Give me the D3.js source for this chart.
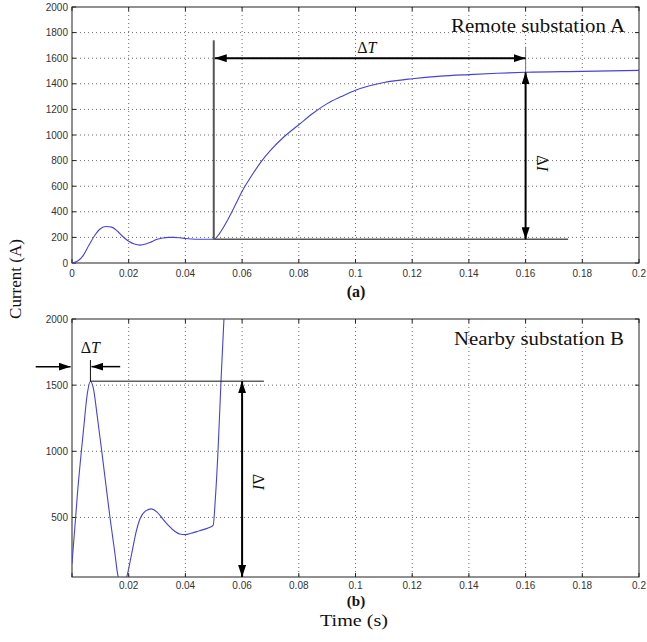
<!DOCTYPE html>
<html>
<head>
<meta charset="utf-8">
<script src="https://cdn.jsdelivr.net/npm/d3@7"></script>
<style>
  body { margin: 0; background: #fff; }
  .grid line { stroke: #444; stroke-dasharray: 1,3; stroke-width: 0.8; }
  .tick-label { font-family: Arial, "Liberation Sans", sans-serif; font-size: 10px; fill: #333; }
  .serif { font-family: "Times New Roman", "Liberation Serif", serif; fill: #111; }
</style>
</head>
<body>
<svg id="canvas" width="647" height="642"></svg>
<script>
"use strict"

// panel (a) : remote substation A
const timeA = [0, 0.002, 0.004, 0.006, 0.008, 0.010, 0.012, 0.014, 0.016, 0.018, 0.020, 0.022, 0.024,
  0.026, 0.028, 0.030, 0.032, 0.034, 0.036, 0.038, 0.040, 0.042, 0.045, 0.050, 0.052, 0.055, 0.058,
  0.060, 0.063, 0.067, 0.070, 0.075, 0.080, 0.085, 0.090, 0.095, 0.100, 0.105, 0.110, 0.120, 0.130,
  0.140, 0.150, 0.160, 0.180, 0.200]
const currentA = [0, 15, 60, 140, 215, 268, 285, 280, 250, 205, 170, 148, 140,
  148, 165, 185, 195, 200, 200, 197, 192, 188, 185, 185, 230, 340, 470,
  560, 670, 800, 880, 990, 1080, 1170, 1245, 1300, 1350, 1385, 1410, 1440, 1460,
  1472, 1482, 1490, 1497, 1505]

// panel (b) : nearby substation B
const timeB = [0, 0.002, 0.004, 0.0055, 0.0065, 0.0075, 0.009, 0.0105, 0.012, 0.0134, 0.015, 0.0163,
  0.0175, 0.0185, 0.0193, 0.021, 0.0225, 0.024, 0.026, 0.028, 0.030, 0.032, 0.034, 0.036, 0.038,
  0.040, 0.042, 0.045, 0.048, 0.0498, 0.0505, 0.0515, 0.0525, 0.0536, 0.055]
const currentB = [150, 700, 1150, 1450, 1530, 1480, 1250, 1000, 740, 500, 250, 50,
  0, 0, 50, 220, 380, 490, 550, 565, 540, 490, 440, 400, 375,
  370, 380, 400, 420, 440, 620, 1000, 1500, 2000, 2400]

const xTicksA = [0, 0.02, 0.04, 0.06, 0.08, 0.1, 0.12, 0.14, 0.16, 0.18, 0.2]
const xTicksB = [0.02, 0.04, 0.06, 0.08, 0.1, 0.12, 0.14, 0.16, 0.18, 0.2]
const yTicksA = [0, 200, 400, 600, 800, 1000, 1200, 1400, 1600, 1800, 2000]
const yTicksB = [500, 1000, 1500, 2000]

// annotation anchors (data units)
const stepA = { t0: 0.05, t1: 0.16, base: 185, top: 1490, arrowY: 1600, lineTop: 1740, markTop: 1690, baseEnd: 0.175 }
const peakB = { t: 0.0065, peak: 1530, lineEnd: 0.0677, tArrow: 0.06, arrowY: 1640, markTop: 1690 }

function fmt(v) { return v === 0 ? "0" : String(v) }

async function draw() {
  const svg = d3.select("#canvas")
  const defs = svg.append("defs")
  defs.append("marker")
    .attr("id", "head")
    .attr("viewBox", "0 0 12 8")
    .attr("refX", 12).attr("refY", 4)
    .attr("markerWidth", 12).attr("markerHeight", 8)
    .attr("markerUnits", "userSpaceOnUse")
    .attr("orient", "auto-start-reverse")
    .append("path").attr("d", "M0,0 L12,4 L0,8 Z").attr("fill", "#000")

  const left = 72, right = 639

  function panel(o) {
    const x = d3.scaleLinear().domain([0, 0.2]).range([left, right])
    const y = d3.scaleLinear().domain(o.yDomain).range([o.bottom, o.top])
    const g = svg.append("g")
    const clipId = "clip" + o.id
    defs.append("clipPath").attr("id", clipId)
      .append("rect").attr("x", left).attr("y", o.top).attr("width", right - left).attr("height", o.bottom - o.top)

    // grid
    const grid = g.append("g").attr("class", "grid")
    grid.selectAll(".gx").data(xTicksA.filter(t => t > 0 && t < 0.2)).enter().append("line")
      .attr("x1", d => x(d)).attr("x2", d => x(d)).attr("y1", o.top).attr("y2", o.bottom)
    grid.selectAll(".gy").data(o.yTicks.filter(v => y(v) > o.top + 1 && y(v) < o.bottom - 1)).enter().append("line")
      .attr("x1", left).attr("x2", right).attr("y1", d => y(d)).attr("y2", d => y(d))

    // frame
    g.append("rect").attr("x", left).attr("y", o.top).attr("width", right - left).attr("height", o.bottom - o.top)
      .attr("fill", "none").attr("stroke", "#222").attr("stroke-width", 1)

    // inward ticks on all four sides
    const tk = 4
    const ticks = g.append("g").attr("stroke", "#222").attr("stroke-width", 1)
    xTicksA.forEach(t => {
      ticks.append("line").attr("x1", x(t)).attr("x2", x(t)).attr("y1", o.bottom).attr("y2", o.bottom - tk)
      ticks.append("line").attr("x1", x(t)).attr("x2", x(t)).attr("y1", o.top).attr("y2", o.top + tk)
    })
    o.yTicks.forEach(v => {
      ticks.append("line").attr("x1", left).attr("x2", left + tk).attr("y1", y(v)).attr("y2", y(v))
      ticks.append("line").attr("x1", right).attr("x2", right - tk).attr("y1", y(v)).attr("y2", y(v))
    })

    // tick labels
    g.selectAll(".xl").data(o.xTicks).enter().append("text")
      .attr("class", "tick-label").attr("x", d => x(d)).attr("y", o.bottom + o.xLabelGap)
      .attr("text-anchor", "middle").text(fmt)
    g.selectAll(".yl").data(o.yTicks).enter().append("text")
      .attr("class", "tick-label").attr("x", left - 4).attr("y", d => y(d) + 3.5)
      .attr("text-anchor", "end").text(fmt)

    // curve
    const pts = o.t.map((t, i) => [t, o.i[i]])
    g.append("path").datum(pts)
      .attr("clip-path", "url(#" + clipId + ")")
      .attr("fill", "none").attr("stroke", "#4343d8").attr("stroke-width", 1.1)
      .attr("d", d3.line().x(d => x(d[0])).y(d => y(d[1])).curve(d3.curveMonotoneX))

    return { g, x, y }
  }

  function deltaLabel(g, sym, x, y, rot) {
    const t = g.append("text").attr("class", "serif").attr("font-size", 16)
      .attr("text-anchor", "middle")
      .attr("transform", `translate(${x},${y})` + (rot ? ` rotate(${rot})` : ""))
    t.append("tspan").text("Δ")
    t.append("tspan").attr("font-style", "italic").text(sym)
  }

  // ---- panel (a)
  const a = panel({ id: "a", top: 7, bottom: 263, yDomain: [0, 2000], t: timeA, i: currentA,
    xTicks: xTicksA, yTicks: yTicksA, xLabelGap: 14 })

  a.g.append("line").attr("x1", a.x(stepA.t0)).attr("x2", a.x(stepA.t0))
    .attr("y1", a.y(stepA.lineTop)).attr("y2", a.y(stepA.base))
    .attr("stroke", "#555").attr("stroke-width", 2)
  a.g.append("line").attr("x1", a.x(stepA.t0)).attr("x2", a.x(stepA.baseEnd))
    .attr("y1", a.y(stepA.base)).attr("y2", a.y(stepA.base))
    .attr("stroke", "#555").attr("stroke-width", 1.5)
  a.g.append("line").attr("x1", a.x(stepA.t1)).attr("x2", a.x(stepA.t1))
    .attr("y1", a.y(stepA.markTop)).attr("y2", a.y(stepA.top))
    .attr("stroke", "#777").attr("stroke-width", 1)
  a.g.append("line").attr("x1", a.x(stepA.t0) + 1).attr("x2", a.x(stepA.t1))
    .attr("y1", a.y(stepA.arrowY)).attr("y2", a.y(stepA.arrowY))
    .attr("stroke", "#000").attr("stroke-width", 2)
    .attr("marker-start", "url(#head)").attr("marker-end", "url(#head)")
  a.g.append("line").attr("x1", a.x(stepA.t1)).attr("x2", a.x(stepA.t1))
    .attr("y1", a.y(stepA.top)).attr("y2", a.y(stepA.base))
    .attr("stroke", "#000").attr("stroke-width", 2)
    .attr("marker-start", "url(#head)").attr("marker-end", "url(#head)")

  deltaLabel(a.g, "T", a.x(0.104), a.y(stepA.arrowY) - 5, 0)
  deltaLabel(a.g, "I", a.x(stepA.t1) + 11, a.y(780), 90)

  a.g.append("text").attr("class", "serif").attr("font-size", 18)
    .attr("x", 625).attr("y", 32).attr("text-anchor", "end")
    .attr("textLength", 174).attr("lengthAdjust", "spacingAndGlyphs").text("Remote substation A")
  a.g.append("text").attr("class", "serif").attr("font-size", 16).attr("font-weight", "bold")
    .attr("x", 356).attr("y", 297).attr("text-anchor", "middle").text("(a)")

  // ---- panel (b)
  const b = panel({ id: "b", top: 319, bottom: 577, yDomain: [50, 2000], t: timeB, i: currentB,
    xTicks: xTicksB, yTicks: yTicksB, xLabelGap: 12 })

  b.g.append("line").attr("x1", b.x(peakB.t)).attr("x2", b.x(peakB.lineEnd))
    .attr("y1", b.y(peakB.peak)).attr("y2", b.y(peakB.peak))
    .attr("stroke", "#111").attr("stroke-width", 1)
  b.g.append("line").attr("x1", b.x(peakB.t)).attr("x2", b.x(peakB.t))
    .attr("y1", b.y(peakB.markTop)).attr("y2", b.y(peakB.peak))
    .attr("stroke", "#111").attr("stroke-width", 1)
  b.g.append("line").attr("x1", b.x(-0.0128)).attr("x2", b.x(-0.0005))
    .attr("y1", b.y(peakB.arrowY)).attr("y2", b.y(peakB.arrowY))
    .attr("stroke", "#000").attr("stroke-width", 1.5).attr("marker-end", "url(#head)")
  b.g.append("line").attr("x1", b.x(0.0170)).attr("x2", b.x(peakB.t) + 1)
    .attr("y1", b.y(peakB.arrowY)).attr("y2", b.y(peakB.arrowY))
    .attr("stroke", "#000").attr("stroke-width", 1.5).attr("marker-end", "url(#head)")
  b.g.append("line").attr("x1", b.x(peakB.tArrow)).attr("x2", b.x(peakB.tArrow))
    .attr("y1", b.y(peakB.peak)).attr("y2", b.y(50))
    .attr("stroke", "#000").attr("stroke-width", 2)
    .attr("marker-start", "url(#head)").attr("marker-end", "url(#head)")

  deltaLabel(b.g, "T", b.x(peakB.t), 353, 0)
  deltaLabel(b.g, "I", b.x(peakB.tArrow) + 11, b.y(770), 90)

  b.g.append("text").attr("class", "serif").attr("font-size", 18)
    .attr("x", 624).attr("y", 345).attr("text-anchor", "end")
    .attr("textLength", 170).attr("lengthAdjust", "spacingAndGlyphs").text("Nearby substation B")
  b.g.append("text").attr("class", "serif").attr("font-size", 15).attr("font-weight", "bold")
    .attr("x", 356).attr("y", 606).attr("text-anchor", "middle").text("(b)")

  // shared axis titles
  svg.append("text").attr("class", "serif").attr("font-size", 17)
    .attr("x", 354).attr("y", 626).attr("text-anchor", "middle")
    .attr("textLength", 68).attr("lengthAdjust", "spacingAndGlyphs").text("Time (s)")
  svg.append("text").attr("class", "serif").attr("font-size", 17)
    .attr("transform", "translate(21,279) rotate(-90)").attr("text-anchor", "middle").text("Current (A)")
}

draw()
</script>
</body>
</html>
